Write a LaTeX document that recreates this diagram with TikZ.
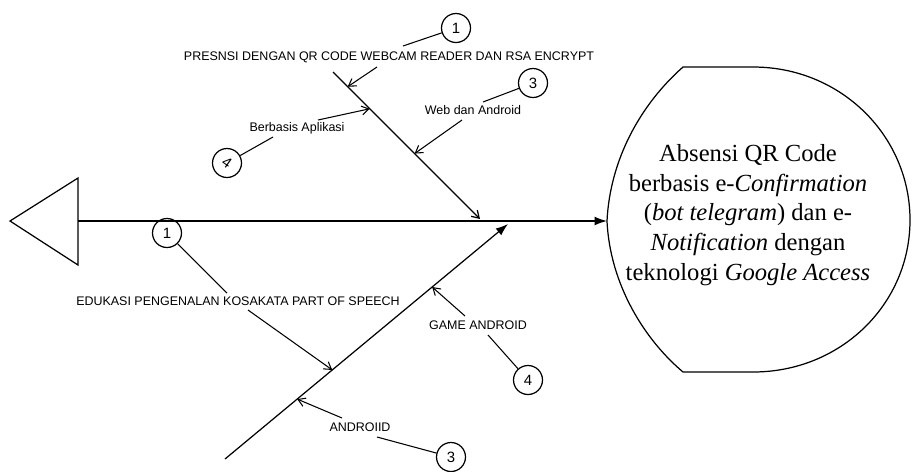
\documentclass[tikz,border=0pt]{standalone}
\usepackage{fontspec}
\setmainfont{Liberation Serif}
\setsansfont{Liberation Sans}
\usetikzlibrary{arrows.meta,calc}

\begin{document}
\begin{tikzpicture}[x=0.02cm, y=-0.02cm,
    bone/.style={line width=0.7pt},
    sublabel/.style={font=\sffamily\fontsize{7.1}{8.5}\selectfont, inner sep=1pt},
    numcircle/.style={draw, circle, line width=0.7pt, minimum size=0.58cm, inner sep=0pt, font=\sffamily\fontsize{8.5}{10}\selectfont},
    subarrow/.style={line width=0.6pt, -{Straight Barb[length=4pt,width=5pt]}},
    leader/.style={line width=0.6pt}]
    \useasboundingbox (0,0) rectangle (912,471);

    % Tail triangle and spine
    \draw[bone] (78,178) -- (10,221) -- (78,265) -- cycle;
    \coordinate (tail) at (78,221);
    \coordinate (headtip) at (607,221);
    \draw[line width=0.8pt, -{Latex[length=7pt,width=5pt]}] (tail) -- (headtip);

    % Head (effect)
    \draw[bone] (607,221) .. controls (610,160) and (640,105) .. (683,67) -- (753,67)
        .. controls (841,67) and (910,136) .. (910,220)
        .. controls (910,304) and (841,372) .. (753,372) -- (683,372)
        .. controls (645,340) and (610,285) .. (607,221);
    \node[align=center, font=\fontsize{14}{17}\selectfont] (effect) at (748,215)
        {Absensi QR Code\\berbasis e-\textit{Confirmation}\\(\textit{bot telegram}) dan e-\\\textit{Notification} dengan\\teknologi \textit{Google Access}};

    % Upper bone
    \coordinate (ubs) at (333,72);
    \coordinate (ube) at (480,219);
    \draw[bone, -{Straight Barb[length=4pt,width=5pt]}] (ubs) -- (ube);
    \coordinate (ub1) at ($(ubs)!0.10!(ube)$);
    \coordinate (ub2) at ($(ubs)!0.25!(ube)$);
    \coordinate (ub3) at ($(ubs)!0.555!(ube)$);

    \node[sublabel] (presensi) at (389,57) {PRESNSI DENGAN QR CODE WEBCAM READER DAN RSA ENCRYPT};
    \node[sublabel] (berbasis) at (297,128) {Berbasis Aplikasi};
    \node[sublabel] (webandroid) at (473,110) {Web dan Android};

    \node[numcircle] (c1top) at (456,28) {1};
    \node[numcircle] (c3top) at (533,83) {3};
    \node[numcircle] (c4top) at (227,163) {\rotatebox{-35}{4}};

    \coordinate (p1) at (403,46);
    \coordinate (p3) at (483,102);
    \coordinate (p4) at (273,137);
    \draw[leader] (c1top) -- (p1);
    \draw[leader] (c3top) -- (p3);
    \draw[leader] (c4top) -- (p4);

    \coordinate (a1) at (377,67);
    \coordinate (a2) at (318,120);
    \coordinate (a3) at (462,120);
    \draw[subarrow] (a1) -- (ub1);
    \draw[subarrow] (a2) -- (ub2);
    \draw[subarrow] (a3) -- (ub3);

    % Lower bone
    \coordinate (lbs) at (225,459);
    \coordinate (lbe) at (508,224);
    \draw[bone, -{Latex[length=7pt,width=5pt]}] (lbs) -- (lbe);
    \coordinate (lb1) at ($(lbs)!0.379!(lbe)$);
    \coordinate (lb2) at ($(lbs)!0.732!(lbe)$);
    \coordinate (lb3) at ($(lbs)!0.255!(lbe)$);

    \node[sublabel, fill=white] (edukasi) at (238,301) {EDUKASI PENGENALAN KOSAKATA PART OF SPEECH};
    \node[sublabel] (game) at (478,325) {GAME ANDROID};
    \node[sublabel] (androiid) at (360,427) {ANDROIID};

    \node[numcircle] (c1bot) at (167,233) {1};
    \node[numcircle] (c4bot) at (528,380) {4};
    \node[numcircle] (c3bot) at (451,457) {3};

    \coordinate (q1) at (227,293);
    \coordinate (q4) at (488,335);
    \coordinate (q3) at (377,437);
    \draw[leader] (c1bot) -- (q1);
    \draw[leader] (c4bot) -- (q4);
    \draw[leader] (c3bot) -- (q3);

    \coordinate (d1) at (248,310);
    \coordinate (d2) at (465,316);
    \coordinate (d3) at (342,418);
    \draw[subarrow] (d1) -- (lb1);
    \draw[subarrow] (d2) -- (lb2);
    \draw[subarrow] (d3) -- (lb3);
\end{tikzpicture}
\end{document}
